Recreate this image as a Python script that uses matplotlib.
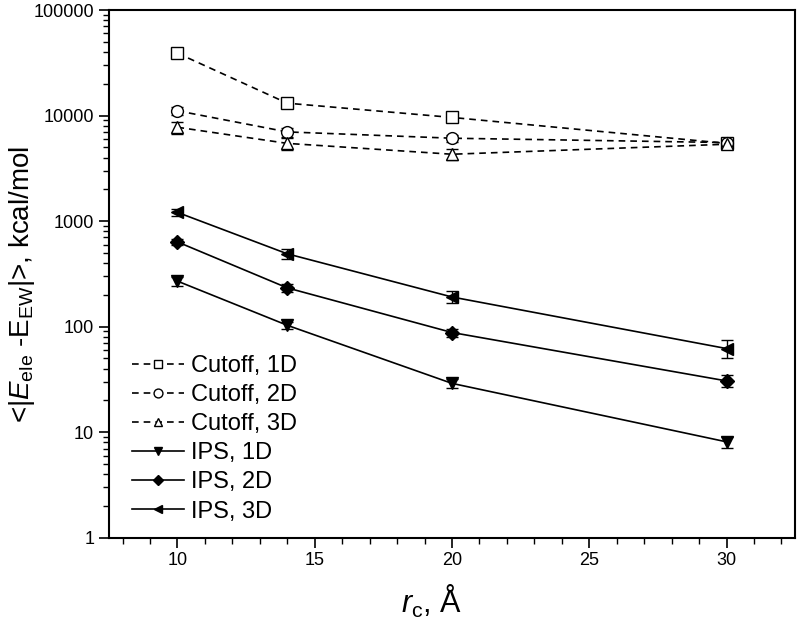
import matplotlib.pyplot as plt
from matplotlib.ticker import MultipleLocator, LogLocator, NullFormatter
from matplotlib.lines import Line2D
import numpy as np

plt.rcParams['font.family'] = ['Liberation Sans', 'DejaVu Sans']
plt.rcParams['mathtext.fontset'] = 'custom'
plt.rcParams['mathtext.rm'] = 'Liberation Sans'
plt.rcParams['mathtext.it'] = 'Liberation Sans:italic'

rc = [10, 14, 20, 30]

cut_1d = [39000, 13100, 9600, 5450]
cut_1d_err = [1200, 500, 400, 300]
cut_2d = [11100, 7000, 6100, 5550]
cut_2d_err = [1000, 700, 450, 400]
cut_3d = [7750, 5450, 4300, 5350]
cut_3d_err = [1000, 700, 500, 450]

ips_1d = [270, 103, 29, 8.1]
ips_1d_err = [25, 8, 3, 1]
ips_2d = [635, 233, 88, 30.6]
ips_2d_err = [40, 20, 8, 4]
ips_3d = [1210, 490, 191, 62]
ips_3d_err = [100, 50, 25, 12]

labels = ['Cutoff, 1D', 'Cutoff, 2D', 'Cutoff, 3D', 'IPS, 1D', 'IPS, 2D', 'IPS, 3D']

fig = plt.figure(figsize=(8.0, 6.26), dpi=100)
ax = fig.add_axes([0.136, 0.141, 0.858, 0.843])

dash = (0, (4, 3))
series = [
    (cut_1d, cut_1d_err, 's', 'white', dash),
    (cut_2d, cut_2d_err, 'o', 'white', dash),
    (cut_3d, cut_3d_err, '^', 'white', dash),
    (ips_1d, ips_1d_err, 'v', 'k', '-'),
    (ips_2d, ips_2d_err, 'D', 'k', '-'),
    (ips_3d, ips_3d_err, '<', 'k', '-'),
]

handles = []
for (y, e, m, fc, ls), lab in zip(series, labels):
    ms = 7 if m == 'D' else 8.5
    ax.errorbar(rc, y, yerr=e, color='k', marker=m, mfc=fc, mec='k', ms=ms, mew=1.0,
                ls=ls, lw=1.2, capsize=4, elinewidth=1.0, capthick=1.0)
    handles.append(Line2D([], [], color='k', marker=m, mfc=fc, mec='k',
                          ms=ms * 0.75, mew=1.0, ls=ls, lw=1.2, label=lab))

ax.set_yscale('log')
ax.set_xlim(7.5, 32.5)
ax.set_ylim(1, 100000)
ax.xaxis.set_major_locator(MultipleLocator(5))
ax.xaxis.set_minor_locator(MultipleLocator(1))
ax.yaxis.set_minor_locator(LogLocator(base=10, subs=np.arange(2, 10), numticks=20))
ax.yaxis.set_minor_formatter(NullFormatter())
ax.set_yticks([1, 10, 100, 1000, 10000, 100000])
ax.set_yticklabels(['1', '10', '100', '1000', '10000', '100000'])

ax.tick_params(which='major', direction='out', length=7, width=1.2, labelsize=13, top=False, right=False)
ax.tick_params(which='minor', direction='out', length=4, width=1.0, top=False, right=False)
for s in ax.spines.values():
    s.set_linewidth(1.5)

ax.set_xlabel(r'$\mathit{r}_\mathrm{c}$, Å', fontsize=22, labelpad=8)
ax.xaxis.set_label_coords(0.47, -0.085)
ax.set_ylabel(r'<|$\mathit{E}_\mathrm{ele}$ -E$_\mathrm{EW}$|>, kcal/mol', fontsize=20, labelpad=6)
ax.yaxis.set_label_coords(-0.105, 0.48)

ax.legend(handles=handles, loc='lower left', bbox_to_anchor=(0.0, -0.016), frameon=False, fontsize=17,
          handlelength=2.2, handletextpad=0.3, labelspacing=0.3, borderaxespad=0.6)

fig.savefig('out.png', dpi=100)
